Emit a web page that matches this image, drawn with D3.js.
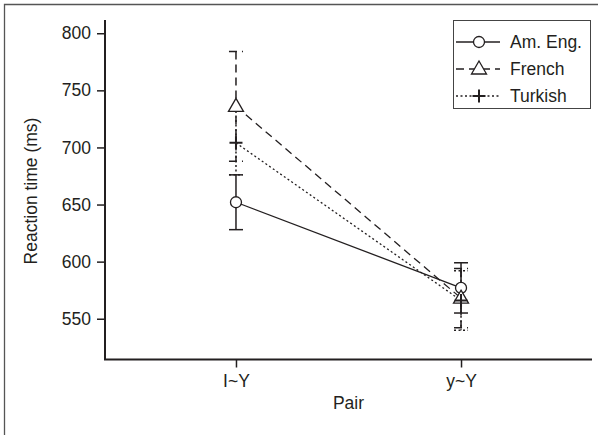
<!DOCTYPE html>
<html>
<head>
<meta charset="utf-8">
<script src="https://cdn.jsdelivr.net/npm/d3@7"></script>
<style>
  body { margin: 0; background: #fff; }
  svg text { font-family: "Liberation Sans", Arial, sans-serif; fill: #231f20; }
</style>
</head>
<body>
<svg id="chart" width="598" height="435"></svg>
<script>
// ---- data ----
var pairs = ["I~Y", "y~Y"];
var seriesNames = ["Am. Eng.", "French", "Turkish"];
var amEngMean = [652, 577];
var amEngErr = [24, 22];
var frenchMean = [736, 568];
var frenchErr = [48, 26];
var turkishMean = [704, 566];
var turkishErr = [28, 26];
var yTicks = [550, 600, 650, 700, 750, 800];

var ink = "#231f20";
var fontSize = 17.5;
var svg = d3.select("#chart");

// outer frame (only top and left edges visible)
svg.append("path")
  .attr("d", "M4.5,435 L4.5,4.5 L598,4.5")
  .attr("fill", "none").attr("stroke", "#555").attr("stroke-width", 1.3);

// plot box (named to avoid clashing with window.top)
var plotLeft = 105, plotRight = 592, plotTop = 20, plotBottom = 359.5;

var x = d3.scalePoint().domain(pairs).range([plotLeft, plotRight]).padding(0.582);
var y = d3.scaleLinear().domain([514.3, 811.6]).range([plotBottom, plotTop]);

// build series from the arrays
var series = [
  { name: seriesNames[0], mean: amEngMean, err: amEngErr, dash: null, sym: "circle" },
  { name: seriesNames[1], mean: frenchMean, err: frenchErr, dash: "8,5", sym: "triangle" },
  { name: seriesNames[2], mean: turkishMean, err: turkishErr, dash: "2,2.5", sym: "plus" }
];
series.forEach(function(s) {
  s.points = pairs.map(function(p, i) { return { pair: p, v: s.mean[i], e: s.err[i] }; });
});

// y axis
var yAxis = svg.append("g")
  .attr("transform", "translate(" + plotLeft + ",0)")
  .call(d3.axisLeft(y).tickValues(yTicks).tickSize(8).tickPadding(6));
yAxis.select(".domain").remove();
yAxis.append("line").attr("x1", 0).attr("x2", 0).attr("y1", plotTop).attr("y2", plotBottom)
  .attr("stroke", ink).attr("stroke-width", 2);
yAxis.selectAll(".tick line").attr("stroke", ink).attr("stroke-width", 1.5);
yAxis.selectAll(".tick text").attr("font-size", fontSize).attr("fill", ink)
  .attr("font-family", "Liberation Sans, Arial, sans-serif");

// x axis
var xAxis = svg.append("g")
  .attr("transform", "translate(0," + plotBottom + ")")
  .call(d3.axisBottom(x).tickSize(8).tickPadding(7));
xAxis.select(".domain").remove();
xAxis.append("line").attr("x1", plotLeft - 1).attr("x2", plotRight).attr("y1", 0).attr("y2", 0)
  .attr("stroke", ink).attr("stroke-width", 2);
xAxis.selectAll(".tick line").attr("stroke", ink).attr("stroke-width", 1.5);
xAxis.selectAll(".tick text").attr("font-size", fontSize).attr("fill", ink)
  .attr("font-family", "Liberation Sans, Arial, sans-serif");

// axis titles
svg.append("text")
  .attr("x", (plotLeft + plotRight) / 2).attr("y", 409)
  .attr("text-anchor", "middle").attr("font-size", fontSize)
  .text("Pair");
svg.append("text")
  .attr("transform", "translate(37,191) rotate(-90)")
  .attr("text-anchor", "middle").attr("font-size", fontSize)
  .text("Reaction time (ms)");

var plot = svg.append("g");

// connecting lines
var line = d3.line().x(function(d) { return x(d.pair); }).y(function(d) { return y(d.v); });
series.forEach(function(s) {
  plot.append("path").datum(s.points)
    .attr("d", line)
    .attr("fill", "none").attr("stroke", ink).attr("stroke-width", 1.3)
    .attr("stroke-dasharray", s.dash);
});

// error bars
var capW = 7;
series.forEach(function(s) {
  var g = plot.append("g")
    .attr("stroke", ink).attr("stroke-width", 1.5).attr("stroke-dasharray", s.dash);
  s.points.forEach(function(d) {
    var cx = x(d.pair);
    g.append("line").attr("x1", cx).attr("x2", cx)
      .attr("y1", y(d.v + d.e)).attr("y2", y(d.v - d.e));
    g.append("line").attr("x1", cx - capW).attr("x2", cx + capW)
      .attr("y1", y(d.v + d.e)).attr("y2", y(d.v + d.e));
    g.append("line").attr("x1", cx - capW).attr("x2", cx + capW)
      .attr("y1", y(d.v - d.e)).attr("y2", y(d.v - d.e));
  });
});

// markers
function drawMarker(g, sym, cx, cy) {
  if (sym === "circle") {
    g.append("circle").attr("cx", cx).attr("cy", cy).attr("r", 5.5)
      .attr("fill", "#fff").attr("stroke", ink).attr("stroke-width", 1.3);
  } else if (sym === "triangle") {
    g.append("path")
      .attr("d", "M" + cx + "," + (cy - 8) + " L" + (cx + 7.5) + "," + (cy + 5) +
                 " L" + (cx - 7.5) + "," + (cy + 5) + "Z")
      .attr("fill", "#fff").attr("stroke", ink).attr("stroke-width", 1.3);
  } else {
    g.append("path")
      .attr("d", "M" + (cx - 6.5) + "," + cy + " H" + (cx + 6.5) +
                 " M" + cx + "," + (cy - 6.5) + " V" + (cy + 6.5))
      .attr("fill", "none").attr("stroke", ink).attr("stroke-width", 2);
  }
}
series.forEach(function(s) {
  s.points.forEach(function(d) {
    drawMarker(plot, s.sym, x(d.pair), y(d.v));
  });
});

// legend
var lg = svg.append("g");
lg.append("rect").attr("x", 453.5).attr("y", 20.5).attr("width", 137).attr("height", 88)
  .attr("fill", "#fff").attr("stroke", "#444").attr("stroke-width", 1);
var legendY = [42, 69, 96];
series.forEach(function(s, i) {
  var ly = legendY[i];
  lg.append("line").attr("x1", 456).attr("x2", 500).attr("y1", ly).attr("y2", ly)
    .attr("stroke", ink).attr("stroke-width", 1.3).attr("stroke-dasharray", s.dash);
  drawMarker(lg, s.sym, 479, ly);
  lg.append("text").attr("x", 510).attr("y", ly + 6).attr("font-size", fontSize).text(s.name);
});
</script>
</body>
</html>
